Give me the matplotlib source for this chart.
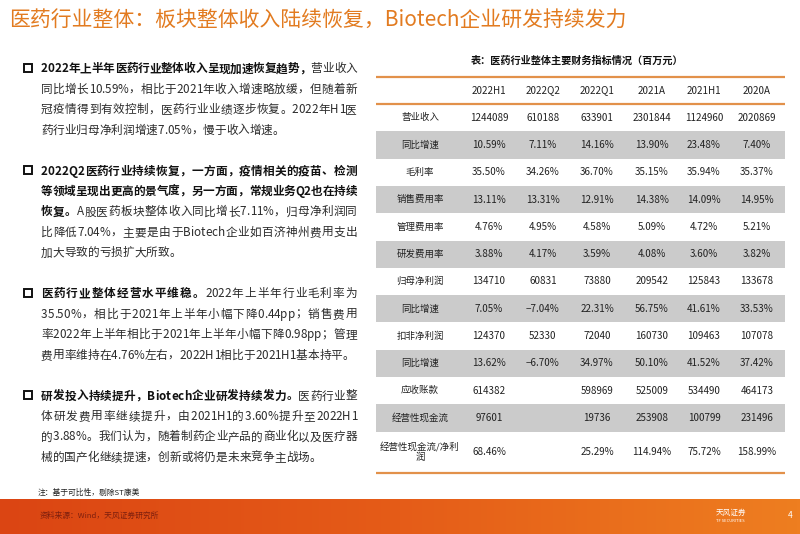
import matplotlib
matplotlib.use("Agg")
import matplotlib.pyplot as plt
import numpy as np
from matplotlib.colors import LinearSegmentedColormap
from matplotlib.font_manager import FontProperties, findfont
from matplotlib.ft2font import FT2Font
from matplotlib.patches import Rectangle

plt.rcParams["font.family"] = ["Noto Sans CJK SC", "DejaVu Sans"]

# ---- content -------------------------------------------------------------
title = "医药行业整体：板块整体收入陆续恢复，Biotech企业研发持续发力"
note = "注：基于可比性，剔除ST康美"
source = "资料来源：Wind，天风证券研究所"

# each paragraph: list of lines, each line: list of (text, bold)
paragraphs = [
    [
        [("2022年上半年医药行业整体收入呈现加速恢复趋势，", True), ("营业收入", False)],
        [("同比增长10.59%，相比于2021年收入增速略放缓，但随着新", False)],
        [("冠疫情得到有效控制，医药行业业绩逐步恢复。2022年H1医", False)],
        [("药行业归母净利润增速7.05%，慢于收入增速。", False)],
    ],
    [
        [("2022Q2医药行业持续恢复，一方面，疫情相关的疫苗、检测", True)],
        [("等领域呈现出更高的景气度，另一方面，常规业务Q2也在持续", True)],
        [("恢复。", True), ("A股医药板块整体收入同比增长7.11%，归母净利润同", False)],
        [("比降低7.04%，主要是由于Biotech企业如百济神州费用支出", False)],
        [("加大导致的亏损扩大所致。", False)],
    ],
    [
        [("医药行业整体经营水平维稳。", True), ("2022年上半年行业毛利率为", False)],
        [("35.50%，相比于2021年上半年小幅下降0.44pp；销售费用", False)],
        [("率2022年上半年相比于2021年上半年小幅下降0.98pp；管理", False)],
        [("费用率维持在4.76%左右，2022H1相比于2021H1基本持平。", False)],
    ],
    [
        [("研发投入持续提升，Biotech企业研发持续发力。", True), ("医药行业整", False)],
        [("体研发费用率继续提升，由2021H1的3.60%提升至2022H1", False)],
        [("的3.88%。我们认为，随着制药企业产品的商业化以及医疗器", False)],
        [("械的国产化继续提速，创新或将仍是未来竞争主战场。", False)],
    ],
]

table_title = "表：医药行业整体主要财务指标情况（百万元）"
periods = ["2022H1", "2022Q2", "2022Q1", "2021A", "2021H1", "2020A"]
row_labels = ["营业收入", "同比增速", "毛利率", "销售费用率", "管理费用率",
              "研发费用率", "归母净利润", "同比增速", "扣非净利润", "同比增速",
              "应收账款", "经营性现金流", "经营性现金流/净利\n润"]

revenue = ["1244089", "610188", "633901", "2301844", "1124960", "2020869"]
revenue_yoy = ["10.59%", "7.11%", "14.16%", "13.90%", "23.48%", "7.40%"]
gross_margin = ["35.50%", "34.26%", "36.70%", "35.15%", "35.94%", "35.37%"]
selling_rate = ["13.11%", "13.31%", "12.91%", "14.38%", "14.09%", "14.95%"]
admin_rate = ["4.76%", "4.95%", "4.58%", "5.09%", "4.72%", "5.21%"]
rd_rate = ["3.88%", "4.17%", "3.59%", "4.08%", "3.60%", "3.82%"]
net_profit = ["134710", "60831", "73880", "209542", "125843", "133678"]
net_profit_yoy = ["7.05%", "−7.04%", "22.31%", "56.75%", "41.61%", "33.53%"]
deducted_profit = ["124370", "52330", "72040", "160730", "109463", "107078"]
deducted_yoy = ["13.62%", "−6.70%", "34.97%", "50.10%", "41.52%", "37.42%"]
receivables = ["614382", "", "598969", "525009", "534490", "464173"]
op_cashflow = ["97601", "", "19736", "253908", "100799", "231496"]
cash_to_profit = ["68.46%", "", "25.29%", "114.94%", "75.72%", "158.99%"]

table_rows = [revenue, revenue_yoy, gross_margin, selling_rate, admin_rate,
              rd_rate, net_profit, net_profit_yoy, deducted_profit, deducted_yoy,
              receivables, op_cashflow, cash_to_profit]

# ---- layout ----------------------------------------------------------------
W, H = 800, 534
BODY_SIZE = 8.4
LINE_H = 20.45
TEXT_X0, TEXT_X1 = 41, 357
FIRST_Y = 68
BASE_SHIFT = 4.3   # baseline sits this far below the line's visual centre
ORANGE = "#e27b20"
LINE_ORANGE = "#e2914a"
GRAY = "#cbcbcb"

fig = plt.figure(figsize=(W / 100, H / 100), dpi=100)
ax = fig.add_axes([0, 0, 1, 1])

# footer band
band = LinearSegmentedColormap.from_list("band", ["#db4513", "#e55c18", "#ee7e20"])
ax.imshow(np.linspace(0, 1, 256).reshape(1, -1), extent=(0, W, 534, 499),
          cmap=band, aspect="auto", zorder=0)
ax.set_xlim(0, W)
ax.set_ylim(H, 0)
ax.axis("off")

ax.text(9, 21, title, fontsize=15, color=ORANGE, va="center", ha="left")

# glyph advances so lines can be justified like the slide
_fonts = {}


def advance(ch, bold):
    if bold not in _fonts:
        path = findfont(FontProperties(family="Noto Sans CJK SC",
                                       weight="bold" if bold else "normal"))
        _fonts[bold] = FT2Font(path)
    f = _fonts[bold]
    f.set_size(BODY_SIZE, 100)
    return f.load_char(ord(ch)).linearHoriAdvance / 65536


k = 0
for para in paragraphs:
    y0 = FIRST_Y + k * LINE_H
    ax.add_patch(Rectangle((23.5, y0 - 4), 8, 8, fill=False, lw=1.4, ec="#111111"))
    for i, segs in enumerate(para):
        y = FIRST_Y + k * LINE_H
        chars = [(ch, b) for txt, b in segs for ch in txt]
        widths = [advance(ch, b) for ch, b in chars]
        # no extra space inside runs of latin letters / digits
        weights = [0 if (chars[n][0].isascii() and chars[n + 1][0].isascii()) else 1
                   for n in range(len(chars) - 1)] + [0]
        gap = 0
        if i < len(para) - 1:
            gap = (TEXT_X1 - TEXT_X0 - sum(widths)) / sum(weights)
        x = TEXT_X0
        for (ch, b), w, wt in zip(chars, widths, weights):
            ax.text(x, y + BASE_SHIFT, ch, fontsize=BODY_SIZE,
                    fontweight="bold" if b else "normal",
                    color="#111111" if b else "#2b2b2b",
                    va="baseline", ha="left")
            x += w + gap * wt
        k += 1
    k += 1

# ---- table -----------------------------------------------------------------
TX0, TX1 = 376, 785
col_x = [420, 489, 543, 597, 652, 704, 757]
head_top, head_h = 77, 27
row_h, last_h = 27.3, 41

ax.text(577, 61, table_title, fontsize=7.3, fontweight="bold",
        color="#111111", ha="center", va="center")

for j, p in enumerate(periods):
    ax.text(col_x[j + 1], head_top + head_h / 2, p, fontsize=7.1,
            color="#222222", ha="center", va="center")

top = head_top + head_h
for i, (label, vals) in enumerate(zip(row_labels, table_rows)):
    h = last_h if i == len(row_labels) - 1 else row_h
    if i % 2 == 1:
        ax.add_patch(Rectangle((TX0, top), TX1 - TX0, h, fc=GRAY, ec="none", zorder=0.5))
    yc = top + h / 2
    ax.text(col_x[0], yc, label, fontsize=6.8, color="#222222",
            ha="center", va="center", linespacing=1.05)
    for j, v in enumerate(vals):
        ax.text(col_x[j + 1], yc, v, fontsize=7.1, color="#222222",
                ha="center", va="center")
    top += h

for yl in (head_top, head_top + head_h, top):
    ax.plot([TX0, TX1], [yl, yl], color=LINE_ORANGE, lw=1.6, solid_capstyle="butt")

# ---- footer ----------------------------------------------------------------
ax.text(38, 493, note, fontsize=5.6, color="#222222", ha="left", va="center")
ax.text(40, 516, source, fontsize=5.6, color="#7d1f0e", ha="left", va="center")
ax.text(716, 513, "天风证券", fontsize=5.5, color="white", ha="left", va="center")
ax.text(716, 521, "TF SECURITIES", fontsize=3, color="white", ha="left", va="center")
ax.text(790, 515, "4", fontsize=6, color="white", ha="center", va="center")

fig.savefig("out.png", dpi=100)
